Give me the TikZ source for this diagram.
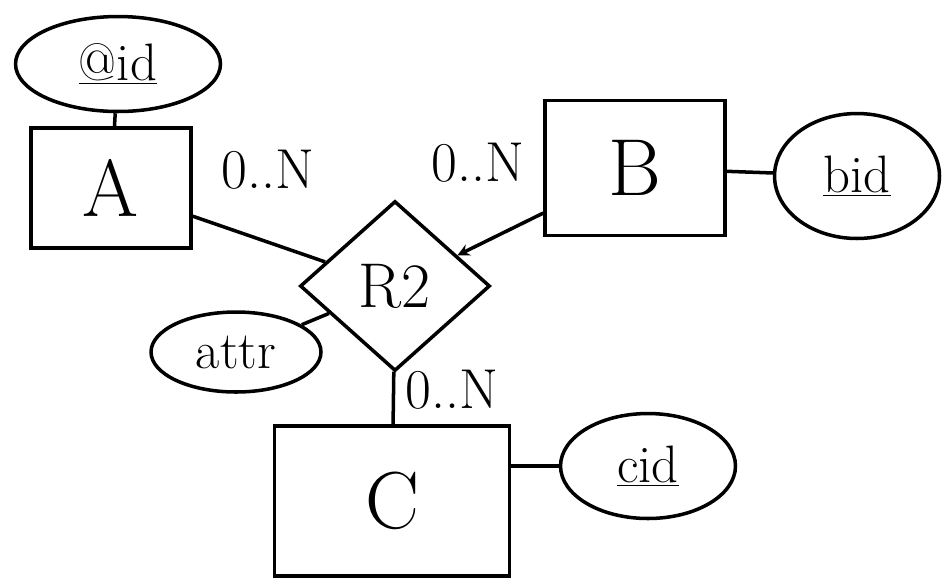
\documentclass[tikz,border=0pt]{standalone}
\usetikzlibrary{shapes.geometric}
\begin{document}
\begin{tikzpicture}[x=0.02cm, y=-0.02cm, line width=2pt,
  entity/.style={draw, rectangle, inner sep=0pt, font=\fontsize{46}{50}\selectfont},
  attrib/.style={draw, ellipse, inner sep=0pt, font=\fontsize{30}{34}\selectfont},
  rel/.style={draw, diamond, inner sep=0pt, minimum width=3.8cm, minimum height=3.4cm, font=\fontsize{36}{40}\selectfont},
  card/.style={font=\fontsize{32}{36}\selectfont}]
\useasboundingbox (0,0) rectangle (952,583);
\node[entity, minimum width=3.2cm, minimum height=2.4cm] (ea) at (111,188){A};
\node[attrib, minimum width=4.1cm, minimum height=1.9cm] (aid) at (118,64){\underline{@id}};
\draw[](aid) -- (ea);
\node[rel] (r2) at (395,286){R2};
\node[card] (card1) at (268,170){0..N};
\draw[](ea) -- (r2);
\node[entity, minimum width=3.6cm, minimum height=2.7cm] (eb) at (635,168){B};
\node[card] (card2) at (478,163){0..N};
\draw[->, >=stealth](eb) -- (r2);
\node[attrib, minimum width=3.3cm, minimum height=2.5cm] (bid) at (857,176){\underline{bid}};
\draw[](eb) -- (bid);
\node[attrib, minimum width=3.4cm, minimum height=1.6cm] (attr) at (236,352){attr};
\draw[](attr) -- (r2);
\node[entity, minimum width=4.7cm, minimum height=3cm] (ec) at (392,501){C};
\node[card] (card3) at (452,390){0..N};
\draw[](r2) -- (ec);
\node[attrib, minimum width=3.5cm, minimum height=2.1cm] (cid) at (648,466){\underline{cid}};
\draw[](cid.west) -- (cid.west -| ec.east);
\end{tikzpicture}
\end{document}
